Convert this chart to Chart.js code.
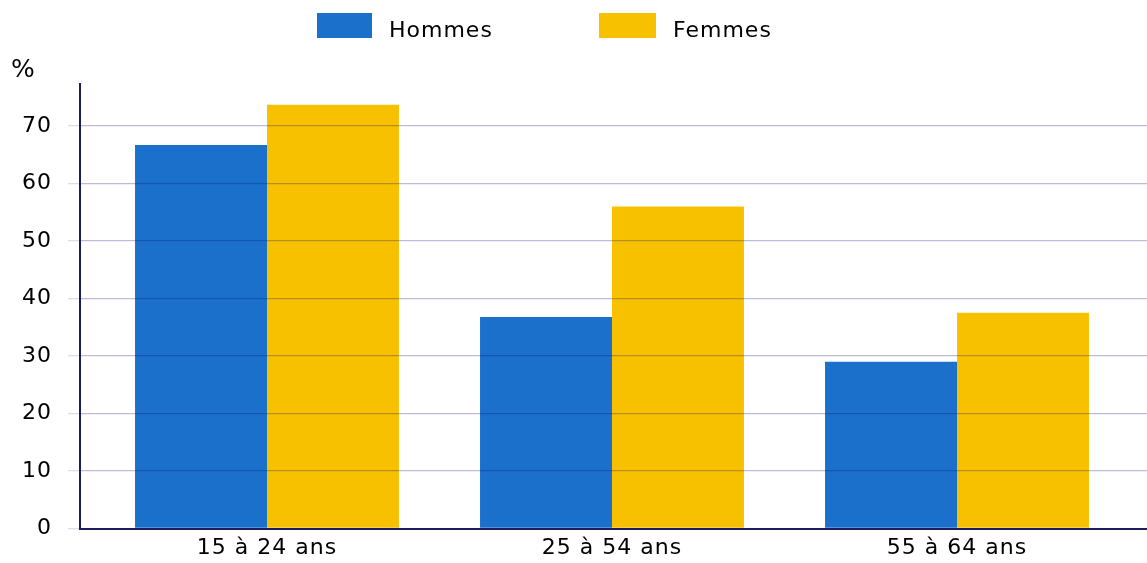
<!DOCTYPE html>
<html lang="fr">
<head>
<meta charset="utf-8">
<title>Hommes / Femmes par tranche d'âge</title>
<script src="https://cdn.jsdelivr.net/npm/chart.js@4.4.1/dist/chart.umd.min.js"></script>
<style>
  html, body { margin: 0; padding: 0; background: #ffffff; }
  #wrap { width: 1147px; height: 563px; }
  canvas { display: block; }
</style>
</head>
<body>
<div id="wrap"><canvas id="chart" width="1147" height="563"></canvas></div>
<script>
// Age groups and shares (%) by sex
const categories = ['15 à 24 ans', '25 à 54 ans', '55 à 64 ans'];
const hommes = [66.7, 36.8, 29.0];
const femmes = [73.7, 56.0, 37.5];
const yTicks = [0, 10, 20, 30, 40, 50, 60, 70];
const seriesNames = ['Hommes', 'Femmes'];
const unitLabel = '%';

const BLUE = '#1b70cb';
const YELLOW = '#f8c100';
const AXIS = '#1c1c5c';
const FONT = '"DejaVu Sans", "Open Sans", sans-serif';
const FONT_SIZE = 22;
const TRACKING = '1px';

const toPoints = arr => arr.map((v, i) => ({ x: i, y: v }));

// Wide tracking on every piece of canvas text
const spacingPlugin = {
  id: 'spacing',
  beforeLayout(chart) { chart.ctx.letterSpacing = TRACKING; },
  beforeDraw(chart) { chart.ctx.letterSpacing = TRACKING; }
};

// Unit label above the value axis and a legend row at the top
const decorPlugin = {
  id: 'decor',
  afterDraw(chart) {
    const ctx = chart.ctx;
    ctx.save();
    ctx.letterSpacing = TRACKING;
    ctx.fillStyle = '#000000';
    ctx.textAlign = 'left';
    ctx.textBaseline = 'alphabetic';
    ctx.font = '25px ' + FONT;
    ctx.fillText(unitLabel, 11, 77);

    ctx.font = FONT_SIZE + 'px ' + FONT;
    const items = [
      { box: [317, 13, 55, 25], textX: 389 },
      { box: [599, 13, 57, 25], textX: 673 }
    ];
    chart.data.datasets.forEach((ds, i) => {
      const it = items[i];
      ctx.fillStyle = ds.backgroundColor;
      ctx.fillRect(it.box[0], it.box[1], it.box[2], it.box[3]);
      ctx.fillStyle = '#000000';
      ctx.fillText(ds.label, it.textX, 37);
    });
    ctx.restore();
  }
};

new Chart(document.getElementById('chart'), {
  type: 'bar',
  data: {
    datasets: [
      { label: seriesNames[0], data: toPoints(hommes), backgroundColor: BLUE },
      { label: seriesNames[1], data: toPoints(femmes), backgroundColor: YELLOW }
    ]
  },
  plugins: [spacingPlugin, decorPlugin],
  options: {
    responsive: false,
    devicePixelRatio: 1,
    animation: false,
    layout: { padding: { top: 84, left: 0, right: 0, bottom: 0 } },
    datasets: { bar: { categoryPercentage: 0.765, barPercentage: 1.0, borderWidth: 0 } },
    plugins: { legend: { display: false }, tooltip: { enabled: false } },
    scales: {
      x: {
        type: 'linear',
        min: -0.542,
        max: 2.5507,
        offset: false,
        afterFit(scale) { scale.height = 34.5; },
        grid: { display: false, drawTicks: false },
        border: { display: true, color: AXIS, width: 2, z: 2 },
        ticks: {
          stepSize: 1,
          includeBounds: false,
          autoSkip: false,
          maxRotation: 0,
          padding: 7,
          color: '#000000',
          font: { family: FONT, size: FONT_SIZE },
          callback: v => (Number.isInteger(v) && categories[v] !== undefined) ? categories[v] : ''
        }
      },
      y: {
        min: 0,
        max: 77.3,
        afterFit(scale) { scale.width = 80; },
        afterBuildTicks(scale) { scale.ticks = yTicks.map(v => ({ value: v })); },
        grid: {
          z: 1,
          color: ctx => ctx.tick && ctx.tick.value === 0 ? 'rgba(0,0,0,0)' : 'rgba(15,15,120,0.28)',
          lineWidth: 1.3,
          borderDash: [3, 2],
          tickLength: 12,
          tickColor: 'rgba(25,25,110,0.15)'
        },
        border: { display: true, color: AXIS, width: 2, z: 2 },
        ticks: {
          padding: 16,
          color: '#000000',
          font: { family: FONT, size: FONT_SIZE }
        }
      }
    }
  }
});
</script>
</body>
</html>
